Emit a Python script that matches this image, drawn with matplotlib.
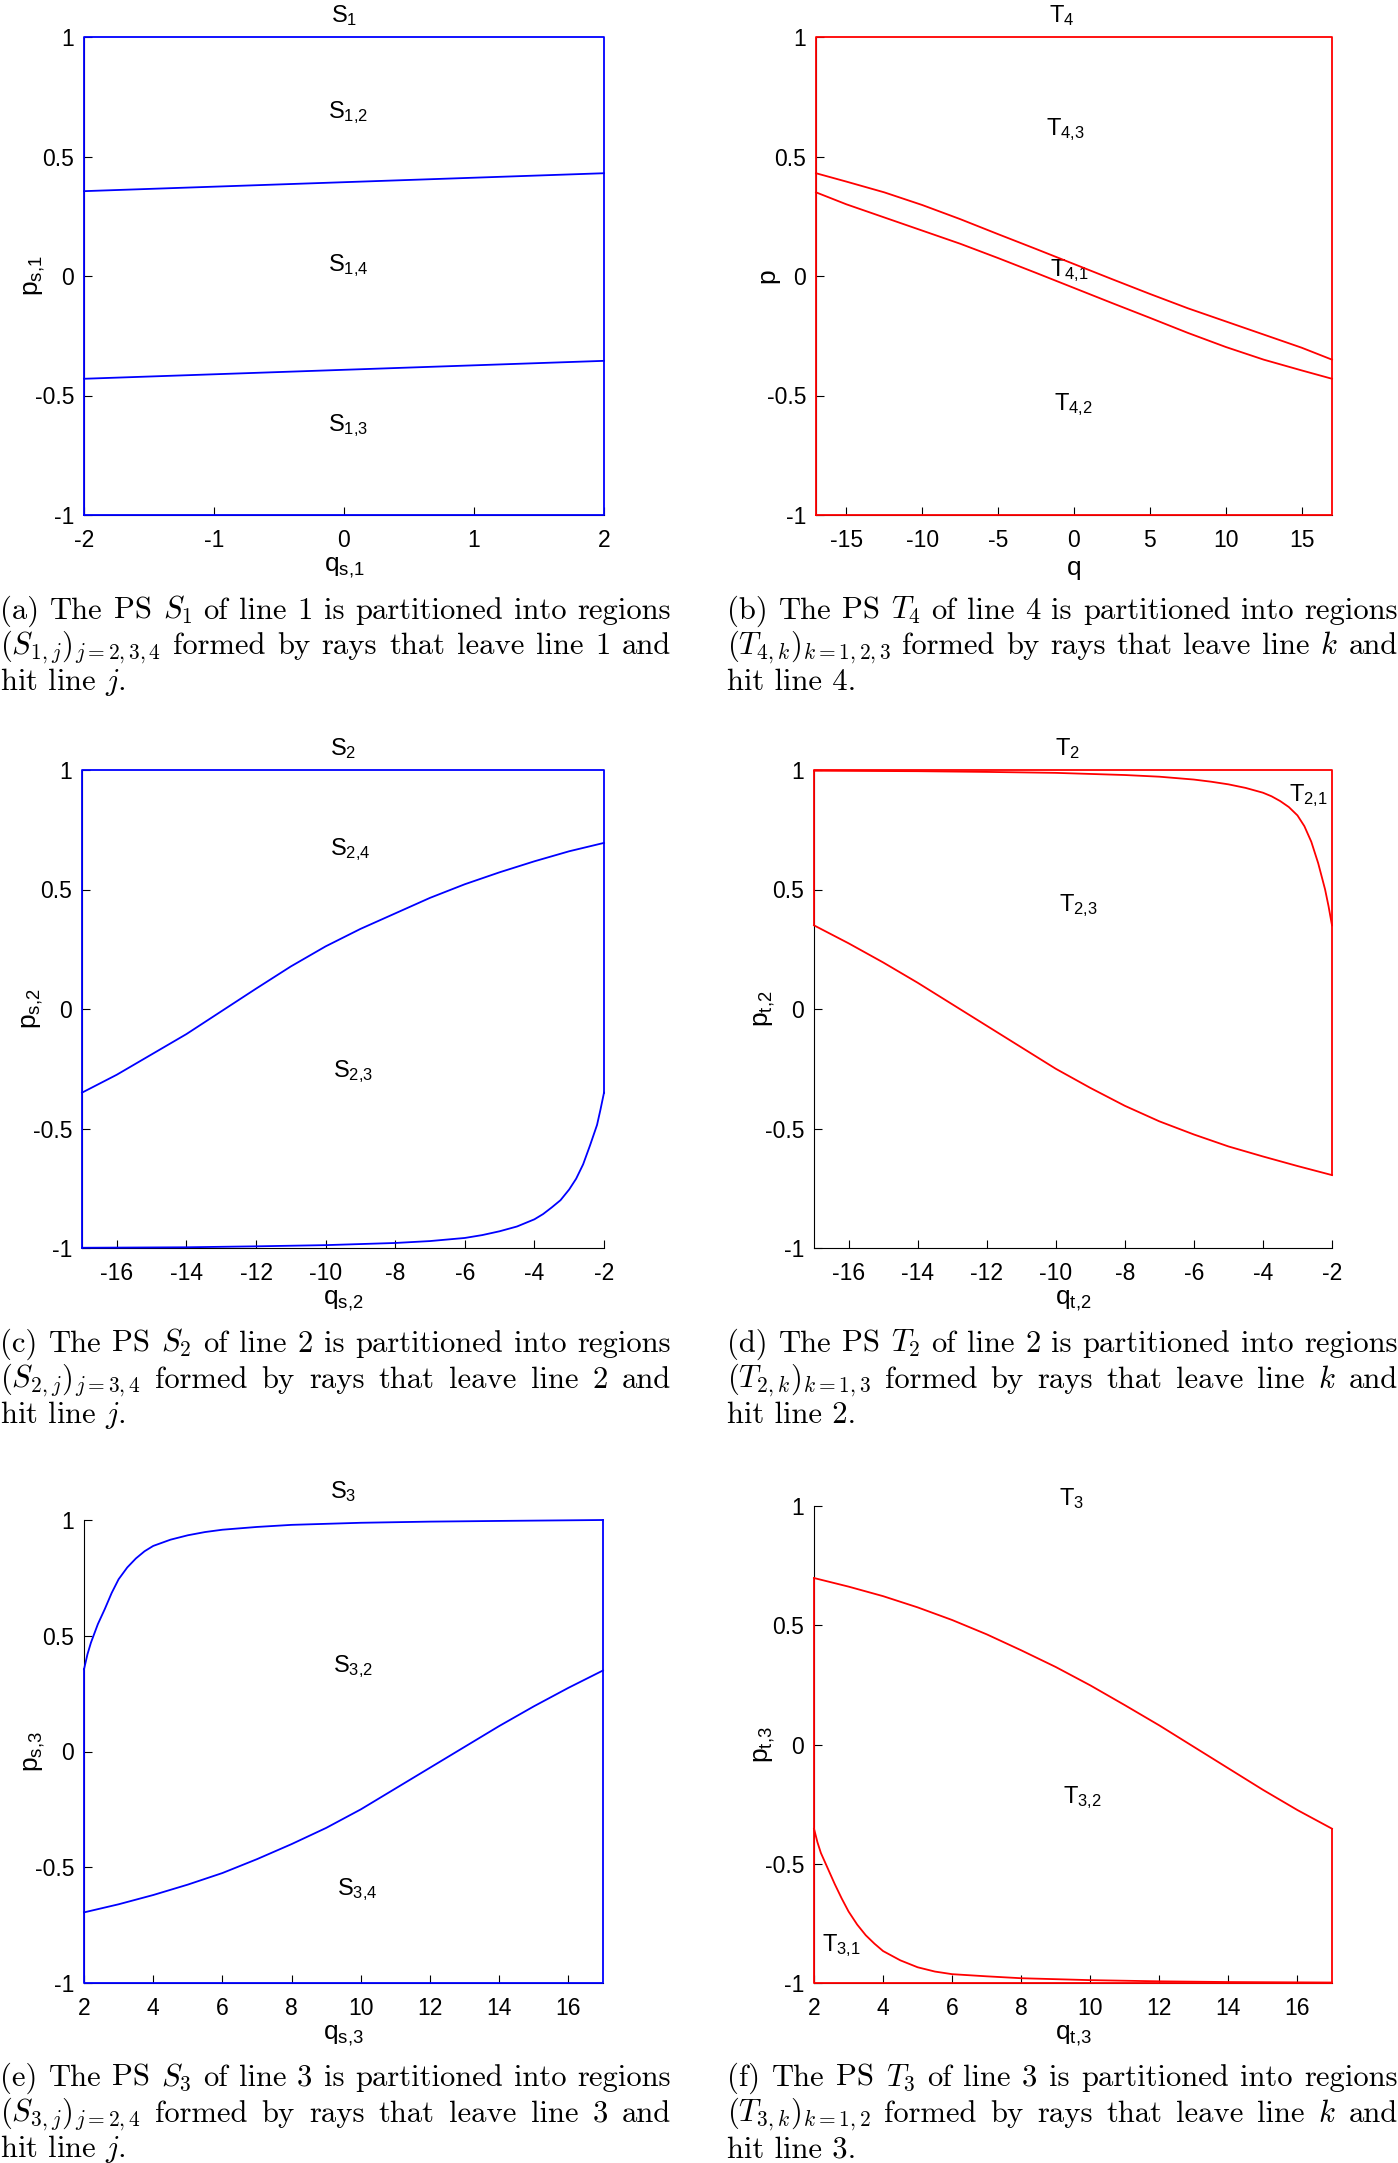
import numpy as np
import matplotlib
matplotlib.use("Agg")
import matplotlib.pyplot as plt

plt.rcParams['font.family'] = ['Liberation Sans', 'DejaVu Sans']
plt.rcParams['mathtext.fontset'] = 'custom'
plt.rcParams['mathtext.rm'] = 'Liberation Sans'
plt.rcParams['mathtext.it'] = 'Liberation Sans'
plt.rcParams['axes.unicode_minus'] = False

W, H = 1398, 2163
BLUE = '#0000ff'
RED = '#ff0000'

yticks = [-1, -0.5, 0, 0.5, 1]
ytick_labels = ['-1', '-0.5', '0', '0.5', '1']

# ---- panel (a): S1 ----
a_q = [-2, 2]
a_upper = [0.355, 0.43]
a_lower = [-0.43, -0.355]

# ---- panel (b): T4 ----
b_q = [-17, -15, -12.5, -10, -7.5, -5, -2.5, 0, 2.5, 5, 7.5, 10, 12.5, 15, 17]
b_upper = [0.43, 0.395, 0.35, 0.297, 0.238, 0.175, 0.113, 0.05, -0.013, -0.075, -0.135, -0.19, -0.245, -0.30, -0.35]
b_lower = [0.35, 0.30, 0.245, 0.19, 0.135, 0.075, 0.013, -0.05, -0.113, -0.175, -0.238, -0.297, -0.35, -0.395, -0.43]

# ---- panel (c): S2 ----
c_q_up = [-17, -16, -15, -14, -13, -12, -11, -10, -9, -8, -7, -6, -5, -4, -3, -2]
c_upper = [-0.35, -0.275, -0.19, -0.105, -0.01, 0.085, 0.178, 0.262, 0.335, 0.40, 0.465, 0.522, 0.572, 0.618, 0.66, 0.695]
c_q_lo = [-17, -14, -12, -10, -8, -7, -6, -5.5, -5, -4.5, -4, -3.75, -3.5, -3.25, -3, -2.8, -2.6, -2.4, -2.2, -2.1, -2]
c_lower = [-0.999, -0.997, -0.993, -0.988, -0.979, -0.971, -0.958, -0.946, -0.93, -0.91, -0.88, -0.858, -0.83, -0.80, -0.755, -0.71, -0.65, -0.57, -0.485, -0.42, -0.35]

# ---- panel (d): T2 ----
d_q_up = [-17, -14, -12, -10, -8, -7, -6, -5.5, -5, -4.5, -4, -3.75, -3.5, -3.25, -3, -2.8, -2.6, -2.4, -2.2, -2.1, -2]
d_upper = [0.997, 0.995, 0.992, 0.988, 0.979, 0.972, 0.96, 0.951, 0.94, 0.925, 0.905, 0.89, 0.87, 0.845, 0.81, 0.765, 0.70, 0.61, 0.50, 0.43, 0.35]
d_q_lo = [-17, -16, -15, -14, -13, -12, -11, -10, -9, -8, -7, -6, -5, -4, -3, -2]
d_lower = [0.35, 0.275, 0.195, 0.11, 0.02, -0.07, -0.16, -0.25, -0.33, -0.405, -0.47, -0.525, -0.575, -0.617, -0.657, -0.695]

# ---- panel (e): S3 ----
e_q_up = [2, 2.1, 2.2, 2.4, 2.6, 2.8, 3, 3.25, 3.5, 3.75, 4, 4.5, 5, 5.5, 6, 7, 8, 10, 12, 14, 17]
e_upper = [0.355, 0.42, 0.47, 0.55, 0.615, 0.685, 0.744, 0.795, 0.834, 0.865, 0.888, 0.915, 0.934, 0.948, 0.958, 0.97, 0.979, 0.988, 0.993, 0.996, 1.0]
e_q_lo = [2, 3, 4, 5, 6, 7, 8, 9, 10, 11, 12, 13, 14, 15, 16, 17]
e_lower = [-0.695, -0.66, -0.62, -0.575, -0.525, -0.465, -0.40, -0.33, -0.25, -0.16, -0.07, 0.02, 0.11, 0.195, 0.275, 0.35]

# ---- panel (f): T3 ----
f_q_up = [2, 3, 4, 5, 6, 7, 8, 9, 10, 11, 12, 13, 14, 15, 16, 17]
f_upper = [0.698, 0.662, 0.622, 0.575, 0.522, 0.462, 0.395, 0.325, 0.248, 0.165, 0.08, -0.01, -0.10, -0.19, -0.275, -0.353]
f_q_lo = [2, 2.1, 2.2, 2.4, 2.6, 2.8, 3, 3.25, 3.5, 3.75, 4, 4.5, 5, 5.5, 6, 7, 8, 10, 12, 14, 17]
f_lower = [-0.353, -0.41, -0.455, -0.52, -0.585, -0.645, -0.70, -0.755, -0.80, -0.835, -0.866, -0.905, -0.934, -0.952, -0.963, -0.972, -0.98, -0.988, -0.993, -0.996, -0.998]

fig = plt.figure(figsize=(W / 100, H / 100), dpi=100)


def add_ax(l, r, t, b):
    return fig.add_axes([l / W, 1 - b / H, (r - l) / W, (b - t) / H])


def style(ax, xlim, xticks, xlabel, ylabel):
    ax.set_xlim(xlim)
    ax.set_ylim(-1, 1)
    ax.set_xticks(xticks)
    ax.set_xticklabels([str(v) for v in xticks])
    ax.set_yticks(yticks)
    ax.set_yticklabels(ytick_labels)
    for s in ['top', 'right']:
        ax.spines[s].set_visible(False)
    for s in ['left', 'bottom']:
        ax.spines[s].set_linewidth(0.8)
    ax.tick_params(direction='in', length=6, width=0.8, labelsize=16.5)
    ax.tick_params(axis='x', pad=10)
    ax.tick_params(axis='y', pad=7)
    ax.set_xlabel(xlabel, fontsize=19, labelpad=3)
    ax.set_ylabel(ylabel, fontsize=19, labelpad=-9)


def line(ax, x, y, c):
    ax.plot(x, y, color=c, lw=1.3, clip_on=False, zorder=5)


def label(ax, x, y, s):
    ax.text(x, y, s, fontsize=17, va='baseline', ha='left')


# (a)
ax = add_ax(84, 604, 37, 515)
style(ax, (-2, 2), [-2, -1, 0, 1, 2], r'$\mathrm{q_{s{,}1}}$', r'$\mathrm{p_{s{,}1}}$')
line(ax, [-2, 2, 2, -2, -2], [-1, -1, 1, 1, -1], BLUE)
line(ax, a_q, a_upper, BLUE)
line(ax, a_q, a_lower, BLUE)
label(ax, -0.12, 0.66, r'$\mathrm{S_{1{,}2}}$')
label(ax, -0.12, 0.02, r'$\mathrm{S_{1{,}4}}$')
label(ax, -0.12, -0.65, r'$\mathrm{S_{1{,}3}}$')

# (b)
ax = add_ax(816, 1332, 37, 515)
style(ax, (-17, 17), [-15, -10, -5, 0, 5, 10, 15], 'q', 'p')
line(ax, [-17, 17, 17, -17, -17], [-1, -1, 1, 1, -1], RED)
line(ax, b_q, b_upper, RED)
line(ax, b_q, b_lower, RED)
label(ax, -1.85, 0.59, r'$\mathrm{T_{4{,}3}}$')
label(ax, -1.55, 0.0, r'$\mathrm{T_{4{,}1}}$')
label(ax, -1.3, -0.56, r'$\mathrm{T_{4{,}2}}$')

# (c)
ax = add_ax(82, 604, 770, 1248)
style(ax, (-17, -2), list(range(-16, -1, 2)), r'$\mathrm{q_{s{,}2}}$', r'$\mathrm{p_{s{,}2}}$')
line(ax, [-2, -2, -17, -17], [c_lower[-1], 1, 1, -1], BLUE)
line(ax, c_q_up, c_upper, BLUE)
line(ax, c_q_lo, c_lower, BLUE)
label(ax, -9.87, 0.645, r'$\mathrm{S_{2{,}4}}$')
label(ax, -9.8, -0.285, r'$\mathrm{S_{2{,}3}}$')

# (d)
ax = add_ax(814, 1332, 770, 1248)
style(ax, (-17, -2), list(range(-16, -1, 2)), r'$\mathrm{q_{t{,}2}}$', r'$\mathrm{p_{t{,}2}}$')
line(ax, [-17, -17, -2, -2], [d_lower[0], 1, 1, d_lower[-1]], RED)
line(ax, d_q_up, d_upper, RED)
line(ax, d_q_lo, d_lower, RED)
label(ax, -3.25, 0.87, r'$\mathrm{T_{2{,}1}}$')
label(ax, -9.9, 0.41, r'$\mathrm{T_{2{,}3}}$')

# (e)
ax = add_ax(84, 603, 1520, 1983)
style(ax, (2, 17), list(range(2, 17, 2)), r'$\mathrm{q_{s{,}3}}$', r'$\mathrm{p_{s{,}3}}$')
line(ax, [2, 2, 17, 17], [e_upper[0], -1, -1, 1], BLUE)
line(ax, e_q_up, e_upper, BLUE)
line(ax, e_q_lo, e_lower, BLUE)
label(ax, 9.2, 0.345, r'$\mathrm{S_{3{,}2}}$')
label(ax, 9.3, -0.62, r'$\mathrm{S_{3{,}4}}$')

# (f)
ax = add_ax(814, 1332, 1506, 1983)
style(ax, (2, 17), list(range(2, 17, 2)), r'$\mathrm{q_{t{,}3}}$', r'$\mathrm{p_{t{,}3}}$')
line(ax, [2, 2, 17, 17], [f_upper[0], -1, -1, f_upper[-1]], RED)
line(ax, f_q_up, f_upper, RED)
line(ax, f_q_lo, f_lower, RED)
label(ax, 9.2, -0.245, r'$\mathrm{T_{3{,}2}}$')
label(ax, 2.23, -0.865, r'$\mathrm{T_{3{,}1}}$')

# titles
titles = [(344, 22, r'$\mathrm{S_1}$'), (1062, 22, r'$\mathrm{T_4}$'),
          (343, 755, r'$\mathrm{S_2}$'), (1068, 755, r'$\mathrm{T_2}$'),
          (343, 1498, r'$\mathrm{S_3}$'), (1072, 1505, r'$\mathrm{T_3}$')]
for x, y, s in titles:
    fig.text(x / W, 1 - y / H, s, fontsize=17, ha='center', va='baseline')

# captions (justified, Computer Modern)
captions = [
    (0, 611, ["(a) The PS $S_1$ of line 1 is partitioned into regions",
              "$(S_{1,j})_{j=2,3,4}$ formed by rays that leave line 1 and",
              "hit line $j$."]),
    (727, 611, ["(b) The PS $T_4$ of line 4 is partitioned into regions",
                "$(T_{4,k})_{k=1,2,3}$ formed by rays that leave line $k$ and",
                "hit line 4."]),
    (0, 1344, ["(c) The PS $S_2$ of line 2 is partitioned into regions",
               "$(S_{2,j})_{j=3,4}$ formed by rays that leave line 2 and",
               "hit line $j$."]),
    (727, 1344, ["(d) The PS $T_2$ of line 2 is partitioned into regions",
                 "$(T_{2,k})_{k=1,3}$ formed by rays that leave line $k$ and",
                 "hit line 2."]),
    (0, 2078, ["(e) The PS $S_3$ of line 3 is partitioned into regions",
               "$(S_{3,j})_{j=2,4}$ formed by rays that leave line 3 and",
               "hit line $j$."]),
    (727, 2078, ["(f) The PS $T_3$ of line 3 is partitioned into regions",
                 "$(T_{3,k})_{k=1,2}$ formed by rays that leave line $k$ and",
                 "hit line 3."]),
]
cap_width = 671
cap_lead = 35.5
renderer = fig.canvas.get_renderer()

# size the caption font so the first (naturally spaced) line fills the column
probe = fig.text(0, 0, captions[0][2][0], fontsize=20, family='cmr10', math_fontfamily='cm')
cap_size = 20 * (cap_width - 4) / probe.get_window_extent(renderer).width
probe.remove()
cap_kw = dict(fontsize=cap_size, family='cmr10', math_fontfamily='cm', va='baseline', ha='left')

for x0, y0, lines in captions:
    for i, ln in enumerate(lines):
        y = 1 - (y0 + i * cap_lead + 8) / H
        if i == len(lines) - 1:
            fig.text(x0 / W, y, ln, **cap_kw)
            continue
        words = ln.split(' ')
        texts = [fig.text(0, y, w, **cap_kw) for w in words]
        widths = [t.get_window_extent(renderer).width for t in texts]
        gap = (cap_width - sum(widths)) / (len(words) - 1)
        xx = x0
        for t, w in zip(texts, widths):
            t.set_x(xx / W)
            xx += w + gap

fig.savefig('out.png', dpi=100)
